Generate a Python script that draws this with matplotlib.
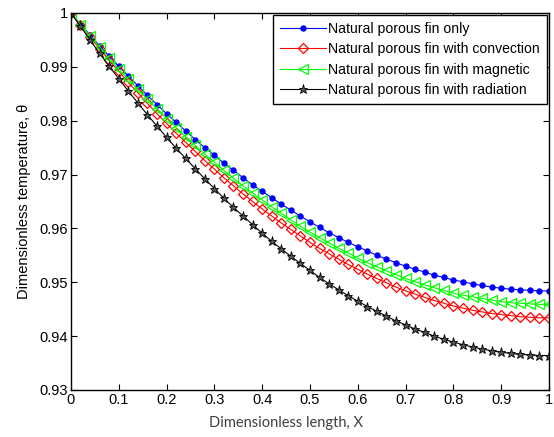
import numpy as np
import matplotlib
matplotlib.use("Agg")
import matplotlib.pyplot as plt

# dimensionless length, 51 nodes
x = np.linspace(0, 1, 51)

theta_only = [10000, 9979, 9959, 9939, 9920, 9901, 9883, 9865, 9847, 9830, 9813, 9797, 9781,
              9765, 9750, 9736, 9721, 9708, 9694, 9681, 9669, 9657, 9645, 9634, 9623, 9612,
              9602, 9592, 9583, 9574, 9566, 9558, 9550, 9543, 9536, 9530, 9524, 9519, 9513,
              9509, 9504, 9501, 9497, 9494, 9491, 9489, 9487, 9486, 9485, 9484, 9484]
theta_conv = [10000, 9977, 9955, 9934, 9912, 9892, 9871, 9852, 9832, 9813, 9795, 9777, 9760,
              9743, 9726, 9710, 9694, 9679, 9664, 9650, 9636, 9623, 9610, 9598, 9586, 9574,
              9563, 9553, 9543, 9533, 9524, 9515, 9507, 9499, 9491, 9484, 9478, 9472, 9466,
              9461, 9456, 9452, 9448, 9445, 9442, 9440, 9438, 9436, 9435, 9434, 9434]
theta_mag = [10000, 9978, 9957, 9937, 9916, 9896, 9877, 9858, 9840, 9822, 9804, 9787, 9770,
             9754, 9738, 9723, 9708, 9693, 9679, 9666, 9653, 9640, 9628, 9616, 9604, 9593,
             9583, 9573, 9563, 9554, 9545, 9536, 9529, 9521, 9514, 9507, 9501, 9495, 9490,
             9485, 9480, 9476, 9473, 9470, 9467, 9464, 9462, 9461, 9460, 9459, 9459]
theta_rad = [10000, 9975, 9950, 9925, 9901, 9878, 9855, 9833, 9811, 9790, 9769, 9749, 9730,
             9711, 9692, 9674, 9656, 9639, 9623, 9607, 9591, 9576, 9562, 9548, 9535, 9522,
             9509, 9497, 9486, 9475, 9465, 9455, 9446, 9437, 9428, 9421, 9413, 9407, 9400,
             9394, 9389, 9384, 9380, 9376, 9373, 9370, 9368, 9366, 9365, 9364, 9364]

labels = ['Natural porous fin only',
          'Natural porous fin with convection',
          'Natural porous fin with magnetic',
          'Natural porous fin with radiation']

xticks = [0, 0.1, 0.2, 0.3, 0.4, 0.5, 0.6, 0.7, 0.8, 0.9, 1]
xtick_labels = ['0', '0.1', '0.2', '0.3', '0.4', '0.5', '0.6', '0.7', '0.8', '0.9', '1']
yticks = [0.93, 0.94, 0.95, 0.96, 0.97, 0.98, 0.99, 1.0]
ytick_labels = ['0.93', '0.94', '0.95', '0.96', '0.97', '0.98', '0.99', '1']

plt.rcParams['font.family'] = ['Liberation Sans', 'DejaVu Sans']

fig = plt.figure(figsize=(5.54, 4.37), dpi=100)
ax = fig.add_axes([0.128, 0.1076, 0.863, 0.8627])

ax.plot(x, np.array(theta_only) / 1e4, color='#0000ff', lw=0.8, marker='o',
        ms=3.6, mfc='#0000ff', mec='#0000ff', label=labels[0])
ax.plot(x, np.array(theta_conv) / 1e4, color='#ff0000', lw=0.8, marker='D',
        ms=5.5, mfc='none', mec='#ff0000', mew=0.9, label=labels[1])
ax.plot(x, np.array(theta_mag) / 1e4, color='#00ff00', lw=0.8, marker='<',
        ms=7, mfc='none', mec='#00ff00', mew=0.9, label=labels[2])
ax.plot(x, np.array(theta_rad) / 1e4, color='black', lw=0.8, marker='*',
        ms=6.5, mfc='#555555', mec='black', mew=0.6, label=labels[3])

ax.set_xlim(0, 1)
ax.set_ylim(0.93, 1.0)
ax.set_xticks(xticks)
ax.set_xticklabels(xtick_labels)
ax.set_yticks(yticks)
ax.set_yticklabels(ytick_labels)
ax.tick_params(direction='in', top=True, right=True, length=4, width=0.8,
               labelsize=10.5, colors='black', pad=2)
for s in ax.spines.values():
    s.set_linewidth(1.0)

ax.set_ylabel('Dimensionless temperature, θ', fontsize=10.5, labelpad=6)
fig.text(0.517, 0.032, 'Dimensionless length, X', family=['Lato', 'DejaVu Sans'],
         fontsize=10.5, color='#404040', ha='center', va='center')

leg = ax.legend(loc='upper right', fontsize=10.1, handlelength=3.3, numpoints=1,
                fancybox=False, framealpha=1, edgecolor='black', borderpad=0.5,
                labelspacing=0.45, handletextpad=0.15, borderaxespad=0.15)
leg.get_frame().set_linewidth(1.0)

fig.savefig('out.png', dpi=100)
